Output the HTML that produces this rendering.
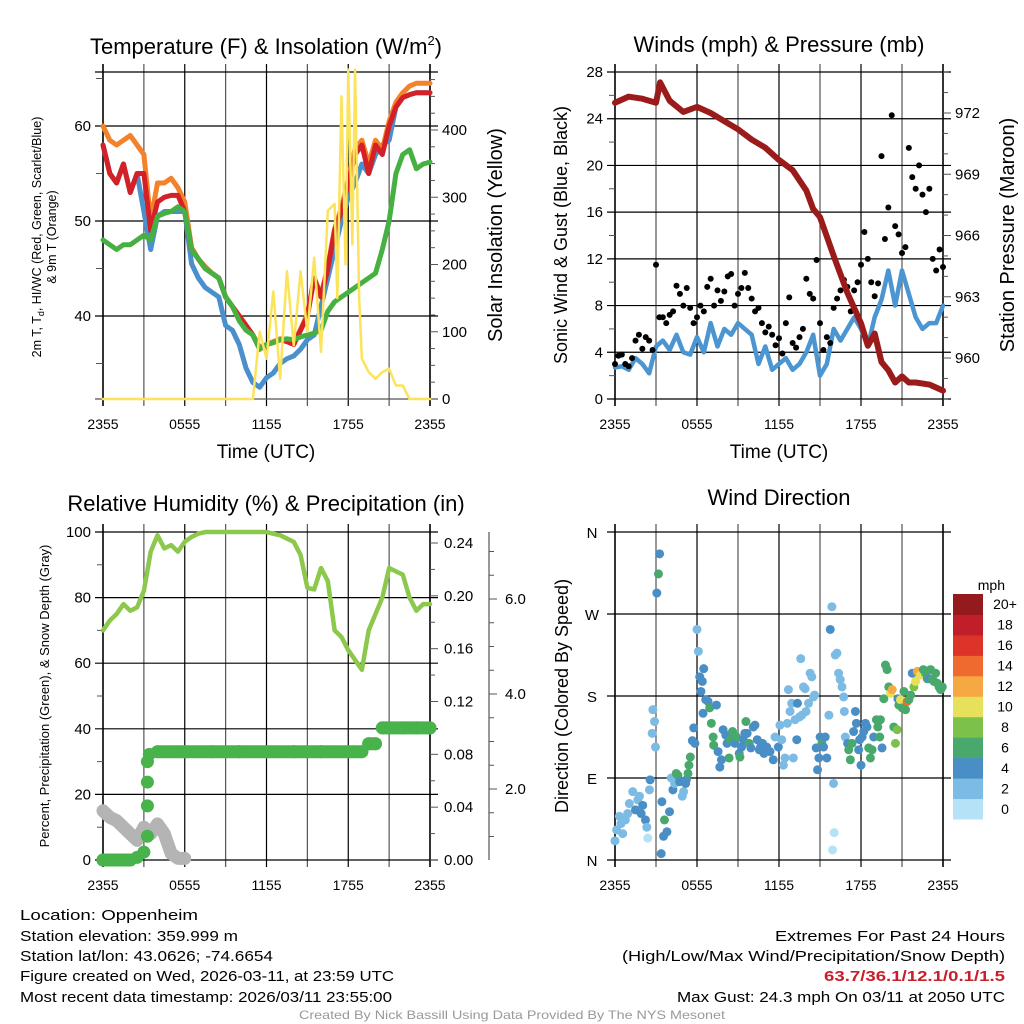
<!DOCTYPE html>
<html><head><meta charset="utf-8"><style>
html,body{margin:0;padding:0;background:#fff}
svg{display:block}
text{font-family:"Liberation Sans",sans-serif;fill:#000}
.nar{font-family:"Liberation Sans Narrow","Liberation Sans",sans-serif}
</style></head><body>
<svg id="s" width="1024" height="1024" viewBox="0 0 1024 1024" xmlns="http://www.w3.org/2000/svg">
<g id="fig"></g>
<text x="266" y="54" font-size="22" text-anchor="middle">Temperature (F) &amp; Insolation (W/m<tspan font-size="13" dy="-9">2</tspan><tspan dy="9">)</tspan></text>
<text x="779" y="52" font-size="22" text-anchor="middle">Winds (mph) &amp; Pressure (mb)</text>
<text x="266" y="511" font-size="22" text-anchor="middle">Relative Humidity (%) &amp; Precipitation (in)</text>
<text x="779" y="505" font-size="22" text-anchor="middle">Wind Direction</text>
<text x="266" y="458" font-size="19" text-anchor="middle">Time (UTC)</text>
<text x="779" y="458" font-size="19" text-anchor="middle">Time (UTC)</text>
<text transform="translate(41,237) rotate(-90)" font-size="12.5" text-anchor="middle">2m T, T<tspan font-size="9" dy="3">d</tspan><tspan dy="-3">, HI/WC (Red, Green, Scarlet/Blue)</tspan></text>
<text transform="translate(56,237) rotate(-90)" font-size="12.5" text-anchor="middle">&amp; 9m T (Orange)</text>
<text transform="translate(502,235) rotate(-90)" font-size="20" text-anchor="middle">Solar Insolation (Yellow)</text>
<text transform="translate(567,235) rotate(-90)" font-size="18" text-anchor="middle">Sonic Wind &amp; Gust (Blue, Black)</text>
<text transform="translate(1014,235) rotate(-90)" font-size="20" text-anchor="middle">Station Pressure (Maroon)</text>
<text transform="translate(49,696) rotate(-90)" font-size="13" text-anchor="middle">Percent, Precipitation (Green), &amp; Snow Depth (Gray)</text>
<text transform="translate(568,696) rotate(-90)" font-size="18" text-anchor="middle">Direction (Colored By Speed)</text>
<text x="1005" y="590" font-size="14" text-anchor="end">mph</text>
<g class="nar" font-size="15">
<text class="nar" x="20" y="920" textLength="178" lengthAdjust="spacingAndGlyphs">Location: Oppenheim</text>
<text class="nar" x="20" y="941" textLength="218" lengthAdjust="spacingAndGlyphs">Station elevation: 359.999 m</text>
<text class="nar" x="20" y="961" textLength="253" lengthAdjust="spacingAndGlyphs">Station lat/lon: 43.0626; -74.6654</text>
<text class="nar" x="20" y="981" textLength="374" lengthAdjust="spacingAndGlyphs">Figure created on Wed, 2026-03-11, at 23:59 UTC</text>
<text class="nar" x="20" y="1002" textLength="372" lengthAdjust="spacingAndGlyphs">Most recent data timestamp: 2026/03/11 23:55:00</text>
<text class="nar" x="1005" y="941" text-anchor="end" textLength="230" lengthAdjust="spacingAndGlyphs">Extremes For Past 24 Hours</text>
<text class="nar" x="1005" y="961" text-anchor="end" textLength="383" lengthAdjust="spacingAndGlyphs">(High/Low/Max Wind/Precipitation/Snow Depth)</text>
<text class="nar" x="1005" y="981" text-anchor="end" textLength="181" lengthAdjust="spacingAndGlyphs" font-weight="bold" style="fill:#c8202a">63.7/36.1/12.1/0.1/1.5</text>
<text class="nar" x="1005" y="1002" text-anchor="end" textLength="328" lengthAdjust="spacingAndGlyphs">Max Gust: 24.3 mph On 03/11 at 2050 UTC</text>
<text class="nar" x="512" y="1019" text-anchor="middle" font-size="12" textLength="426" lengthAdjust="spacingAndGlyphs" style="fill:#999">Created By Nick Bassill Using Data Provided By The NYS Mesonet</text>
</g>
</svg>
<script>
// ---------- data ----------
const timeLabels = ["2355","0555","1155","1755","2355"];
const tHalf = [0,0.5,1,1.5,2,2.5,3,3.5,4,4.5,5,5.5,6,6.5,7,7.5,8,8.5,9,9.5,10,10.5,11,11.5,12,12.5,13,13.5,14,14.5,15,15.5,16,16.5,17,17.5,18,18.5,19,19.5,20,20.5,21,21.5,22,22.5,23,23.5,24];
const tempRed = [58,55,54,56,53,55,55,49,52,52.5,52.7,52.7,51,47,46,45,44.5,44,42,41,40,39,38,36.5,37,37.2,37.5,37.3,37,38.5,40,44,42,45,49,51,54,57,58,55,58,57,60,62,63,63.3,63.5,63.5,63.5];
const tempOrange = [60,58.5,58,58.5,59,58,57,50,54,54,54.5,53.5,52,47.2,46,45.2,44.5,44,42,41,40,39,38,36.7,37,37.3,37.6,37.4,37.2,38.6,40.2,44,42.2,45.2,49.2,51.4,54.4,57.6,58.5,56,58.5,57.5,60.5,62.5,63.5,64.2,64.5,64.5,64.5];
const tempBlue = [58,55,54,56,53,55,51,47,50.5,51,51,51,51,45.5,44,43,42.5,42,39,38.5,37,34.5,33,32.5,33.5,34,35,35.5,35.8,36.5,37.5,38,41,44,47,50,52.5,54,56,55,57,58,58.5,62,63,63.3,63.5,63.5,63.5];
const tempGreen = [48,47.5,47,47.5,47.5,48,48.5,48,50.5,50.8,51,51.5,51,47,46,45,44.5,44,42,41,39.5,38.5,38,36.5,37,37.2,37.5,37.6,37.5,37.8,38,38.2,38.5,40.5,41.5,42,42.5,43,43.5,44,44.5,47,50,55,57,57.5,55.5,56,56.2];
const solarT = [0,11,11.5,12,12.5,13,13.5,14,14.5,15,15.5,16,16.5,17,17.2,17.5,17.8,18,18.3,18.5,18.8,19,19.5,20,20.5,21,21.5,22,22.5,24];
const solarV = [0,0,100,60,160,30,190,80,190,100,210,70,280,290,150,450,200,490,230,490,150,60,40,30,40,45,20,20,0,0];
const pressT = [0,1,2,3,3.3,4,5,6,7,8,9,10,11,12,13,14,14.5,15,16,17,18,18.5,19,19.5,20,20.5,21,21.5,22,23,24];
const pressV = [972.5,972.8,972.7,972.5,973.5,972.6,972.05,972.3,972,971.6,971.2,970.7,970.3,969.7,969.2,968.2,967.3,966.9,965,963.2,961.7,960.6,961.2,959.8,959.4,958.8,959.1,958.8,958.8,958.7,958.4];
const windV = [2.7,2.8,2.5,3.5,3,2.2,4.5,5,4.2,5.5,4,3.8,5.3,4,6.5,4.5,6,5.5,6.5,6,5.5,3,4.5,2.5,3,3.5,2.5,3,4,5.5,2,3,6,5,6,7,6,4.5,7,8.5,11,8,11,9,7,6,6.5,6.5,8];
const gustV = [3,3.7,3.8,3,2.8,3.5,5,5.5,4.3,5.3,5,4.2,11.5,7,7,6.5,7.2,7.5,9.7,9,8,9.5,7.8,6.5,7,8,7.5,9.6,10.3,8,9.3,8.4,9.2,10.5,10.7,8,9,9.5,10.8,9.5,8.6,7.5,7.8,6.5,5.7,6.2,5.5,4.6,5.2,3.9,6.5,8.7,4.8,4.4,5.3,6,10.3,9,8.6,11.9,6.5,4.2,5.3,4.8,7.8,8.6,9.3,10.2,9.6,7.5,9.3,10,11.5,14.3,12,10,8.8,9.9,20.8,13.7,16.4,24.3,14.8,14.1,12.5,13,21.5,19,18,20,17.5,16,18,12,11,12.8,11.3];
const rhV = [70,73,75,78,76,77,82,94,99,95,96,94,97,98.5,99.5,100,100,100,100,100,100,100,100,100,100,99.5,99,98,97,93,83,82.5,89,85,70,68,64,61,58,70,75,80,89,88,87,80,76,78,78];
const precipT = [0,0.5,1,1.5,2,2.5,3,3.26,3.26,3.26,3.26,3.4,4,6,8,10,12,14,16,18,19,19.5,20,20.5,21,22,23,24];
const precipV = [0,0,0,0,0,0.002,0.006,0.018,0.041,0.059,0.0745,0.08,0.082,0.082,0.082,0.082,0.082,0.082,0.082,0.082,0.082,0.088,0.088,0.1,0.1,0.1,0.1,0.1];
const snowT = [0,0.5,1,1.5,2,2.5,3,3.5,4,4.5,5,5.5,6];
const snowV = [15,13,12,10,8,6,10,8,11,8,2,0.5,0.5];
const dirT = [0,.12,.32,.44,.56,.76,.93,1.05,1.3,1.5,1.67,1.79,1.91,2.03,2.23,2.33,2.4,2.57,2.52,2.72,2.77,2.89,2.96,3.06,3.18,3.26,3.38,3.43,3.55,3.62,3.8,3.99,4.11,4.24,4.36,4.48,4.6,4.73,4.92,5.02,5.17,5.22,5.34,5.41,5.51,5.66,5.76,5.85,6.0,6.1,6.2,6.29,6.39,6.49,6.64,6.81,6.44,6.93,7.05,7.18,7.22,7.42,7.54,7.67,7.79,7.91,8.11,8.2,8.35,8.45,8.6,8.77,8.89,9.09,9.14,9.26,9.38,9.5,9.58,9.67,9.82,9.94,10.12,10.24,10.41,10.56,10.65,10.8,10.9,11.1,11.34,11.58,11.71,11.95,12.07,12.2,12.32,12.44,12.61,12.69,12.81,12.93,13.05,13.18,13.3,13.35,13.5,13.59,13.67,13.79,13.91,13.98,14.16,14.28,14.4,14.52,14.6,14.72,14.82,14.92,15.01,15.14,15.26,15.38,15.5,15.65,15.75,15.87,15.92,15.99,16.04,16.12,16.24,16.36,16.48,16.61,16.73,16.78,16.85,17.02,17.1,17.22,17.34,17.46,17.59,17.66,17.83,17.9,18.0,18.08,18.2,18.32,18.44,18.56,18.69,18.81,18.93,19.13,19.23,19.37,19.42,19.54,19.67,19.79,19.91,20.03,20.16,20.28,20.4,20.52,20.65,20.7,20.77,20.89,21.01,21.14,21.26,21.38,21.5,21.63,21.75,21.87,21.99,22.12,22.24,22.36,22.56,22.73,22.85,22.97,23.09,23.22,23.34,23.46,23.59,23.71,23.83,23.95];
const dirDeg = [21,33,48,40,29,44,51,62,75,55,66,70,51,60,44,36,24,88,77,139,165,152,124,293,314,336,7,64,26,44,31,53,90,77,84,95,93,86,70,75,84,88,95,104,113,131,145,128,253,229,201,185,196,210,176,174,161,167,150,135,126,170,119,102,110,143,137,128,112,132,141,128,135,117,113,124,132,139,152,139,128,123,146,148,132,121,124,128,117,124,119,110,135,124,148,132,104,112,150,187,163,172,112,154,132,172,157,221,159,190,188,163,172,205,201,179,181,123,99,112,135,128,124,135,112,159,253,278,11,84,30,225,227,205,198,190,179,163,135,128,121,110,128,141,163,150,121,132,104,135,141,150,146,123,112,121,135,154,146,135,154,123,177,214,209,190,183,187,146,128,143,177,170,176,167,185,165,174,176,181,205,190,196,207,205,203,209,205,199,199,209,198,196,205,194,190,187,190];
const dirSpd = [2,2,2,2,2,2,2,2,2,4,2,2,4,4,4,2,0,4,2,2,2,2,2,4,6,4,4,4,4,6,4,4,2,4,2,6,6,4,2,2,4,4,6,6,6,4,4,4,2,2,4,4,4,4,4,4,4,6,6,6,6,4,4,4,4,4,4,4,6,6,6,4,6,4,6,4,4,4,6,4,6,4,4,4,4,4,4,4,4,4,4,4,2,4,2,2,2,2,2,2,2,2,2,2,4,4,2,2,2,2,2,2,2,2,2,2,2,4,4,4,4,6,4,4,4,2,4,2,0,2,0,2,2,2,2,2,2,2,2,4,6,6,6,4,4,4,4,4,4,4,4,4,4,6,6,6,4,6,6,6,6,4,6,6,6,6,10,12,6,8,8,4,6,10,6,6,6,14,6,6,4,8,10,12,12,10,6,6,6,4,6,6,6,6,6,6,6,6];
const cbLabels = ["0","2","4","6","8","10","12","14","16","18","20+"];
const cbColors = ["#b5e2f7","#7cbbe4","#4a8ec6","#49a86c","#7cc24a","#e6e05a","#f6a843","#ef6a2e","#dc3428","#c01f2a","#941a1d"];

// ---------- helpers ----------
const NS="http://www.w3.org/2000/svg";
const fig=document.getElementById('fig');
function mk(tag,attrs,parent){const e=document.createElementNS(NS,tag);for(const k in attrs)e.setAttribute(k,attrs[k]);(parent||fig).appendChild(e);return e;}
function txt(x,y,s,size,anchor,parent){const e=mk('text',{x:x,y:y,'font-size':size,'text-anchor':anchor},parent);e.textContent=s;return e;}
const P={tl:{x0:103,x1:430,y0:72,y1:399},tr:{x0:615,x1:943,y0:72,y1:399},bl:{x0:103,x1:430,y0:532,y1:860},br:{x0:615,x1:943,y0:532,y1:860}};
function xT(p,t){return p.x0+t/24*(p.x1-p.x0);}
function lin(d0,d1,r0,r1){return v=>r0+(v-d0)/(d1-d0)*(r1-r0);}
const yTemp=lin(50,60,221,126), ySol=lin(0,400,399,130);
const yWind=lin(0,28,399,72), yPres=lin(960,972,358,113);
const yRH=lin(0,100,860,532), yPr=lin(0,0.24,860,543), ySnow=lin(2,6,789,599);
const yDir=lin(0,360,860,532);

function frame(p,key){
  const g=mk('g',{});
  
  
  for(let i=0;i<=8;i++){const x=xT(p,i*3);
    mk('line',{x1:x,y1:p.y0-8,x2:x,y2:p.y1+7,stroke:(i%2?'#555':'#000'),'stroke-width':(i==0||i==8)?1.6:1.2},g);}
  timeLabels.forEach((s,i)=>{const l=txt(xT(p,i*6),p.y1+30,s,14,'middle',g);
    
    });
  return g;
}
function hline(p,y,g,c){mk('line',{x1:p.x0-8,y1:y,x2:p.x1+8,y2:y,stroke:c||'#000','stroke-width':1.2},g);}
function tick(x,y,len,g){mk('line',{x1:x,y1:y,x2:x+len,y2:y,stroke:'#555','stroke-width':1},g);}
function poly(pts,color,w,name){const e=mk('polyline',{points:pts.map(p=>p.join(',')).join(' '),fill:'none',stroke:color,'stroke-width':w,'stroke-linejoin':'round','stroke-linecap':'round'});
  
  return e;}

// ---------- top-left ----------
(function(){const p=P.tl,g=frame(p,'temp');
  [40,50,60].forEach(v=>{hline(p,yTemp(v),g);txt(p.x0-12,yTemp(v)+5,String(v),15,'end',g);});
  hline(p,p.y0,g);hline(p,p.y1,g,'#555');
  [35,45,55,65].forEach(v=>tick(p.x0-7,yTemp(v),7,g));
  for(let v=0;v<=475;v+=25){tick(p.x1,ySol(v),v%100==0?8:5,g);}
  [0,100,200,300,400].forEach(v=>txt(p.x1+12,ySol(v)+5,String(v),15,'start',g));
  const tp=a=>tHalf.map((t,i)=>[xT(p,t),yTemp(a[i])]);
  poly(tp(tempBlue),'#4a90cd',5,'series-heat-index-wind-chill');
  poly(tp(tempOrange),'#f4822a',5,'series-9m-temp');
  poly(tp(tempRed),'#d42027',5,'series-2m-temp');
  poly(tp(tempGreen),'#46b040',5,'series-dewpoint');
  poly(solarT.map((t,i)=>[xT(p,t),ySol(solarV[i])]),'#fbe45b',2.5,'series-solar-insolation');
})();

// ---------- top-right ----------
(function(){const p=P.tr,g=frame(p,'wind');
  for(let v=0;v<=28;v+=4){hline(p,yWind(v),g);txt(p.x0-12,yWind(v)+5,String(v),15,'end',g);}
  for(let v=2;v<28;v+=4)tick(p.x0-6,yWind(v),6,g);
  for(let v=958;v<=974;v++)tick(p.x1,yPres(v),v%3==0?8:5,g);
  [960,963,966,969,972].forEach(v=>txt(p.x1+12,yPres(v)+5,String(v),15,'start',g));
  poly(tHalf.map((t,i)=>[xT(p,t),yWind(windV[i])]),'#4b96d2',4.5,'series-sonic-wind');
  gustV.forEach((v,i)=>{const c=mk('circle',{cx:xT(p,i/4),cy:yWind(v),r:3,fill:'#000'});
    
    });
  poly(pressT.map((t,i)=>[xT(p,t),yPres(pressV[i])]),'#9b1b1b',6,'series-station-pressure');
})();

// ---------- bottom-left ----------
(function(){const p=P.bl,g=frame(p,'humidity');
  for(let v=0;v<=100;v+=20){hline(p,yRH(v),g);txt(p.x0-12,yRH(v)+5,String(v),15,'end',g);}
  for(let v=10;v<100;v+=20)tick(p.x0-6,yRH(v),6,g);
  for(let v=0;v<=0.245;v+=0.02)tick(p.x1,yPr(v),Math.round(v*100)%4==0?8:5,g);
  [0,0.04,0.08,0.12,0.16,0.20,0.24].forEach(v=>txt(p.x1+14,yPr(v)+5,v.toFixed(2),15,'start',g));
  mk('line',{x1:489,y1:p.y0,x2:489,y2:p.y1,stroke:'#555','stroke-width':1.2},g);
  for(let v=1;v<=7;v+=0.5)tick(489,ySnow(v),v%2==0?8:5,g);
  ["2.0","4.0","6.0"].forEach(s=>txt(505,ySnow(parseFloat(s))+5,s,15,'start',g));
  poly(snowT.map((t,i)=>[xT(p,t),yRH(snowV[i])]),'#b4b4b4',13,'series-snow-depth');
  poly(tHalf.map((t,i)=>[xT(p,t),yRH(rhV[i])]),'#8cc84b',4.5,'series-relative-humidity');
  for(let i=1;i<precipT.length;i++){if(precipV[i]===precipV[i-1]){
    const l=mk('line',{x1:xT(p,precipT[i-1]),y1:yPr(precipV[i]),x2:xT(p,precipT[i]),y2:yPr(precipV[i]),stroke:'#47b34a','stroke-width':13,'stroke-linecap':'round'});
    
    }}
  precipT.forEach((t,i)=>{const c=mk('circle',{cx:xT(p,t),cy:yPr(precipV[i]),r:6.5,fill:'#47b34a'});
    
    });
})();

// ---------- bottom-right ----------
(function(){const p=P.br,g=frame(p,'direction');
  [["N",0],["E",90],["S",180],["W",270],["N",360]].forEach(d=>{hline(p,yDir(d[1]),g);txt(p.x0-23,yDir(d[1])+6,d[0],15,'middle',g);});
  dirT.forEach((t,i)=>{const k=Math.min(10,Math.round(dirSpd[i]/2));
    const c=mk('circle',{cx:xT(p,t),cy:yDir(dirDeg[i]),r:4.5,fill:cbColors[k]});
    
    });
  const cb=mk('g',{});
  
  
  const top=594,h=225/11;
  cbColors.forEach((c,i)=>{mk('rect',{x:953,y:top+(10-i)*h,width:30,height:h+0.5,fill:c},cb);
    txt(1005,top+(10-i)*h+h/2+5,cbLabels[i],14,'middle',cb);});
})();
</script>
</body></html>
